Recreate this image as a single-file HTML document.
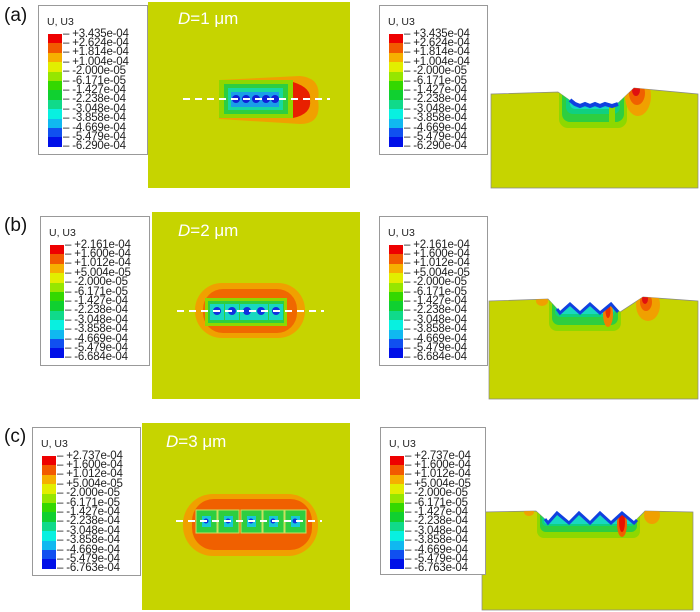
<!DOCTYPE html>
<html><head><meta charset="utf-8">
<style>
body{margin:0;background:#fff;width:700px;height:612px;overflow:hidden;font-family:"Liberation Sans",sans-serif;position:relative}
.lab{position:absolute;font-size:19px;color:#111}
.leg{position:absolute;border:1px solid #999;background:#fff;box-sizing:border-box}
.leg .t{position:absolute;left:8px;top:10px;font-size:10.5px;color:#222}
.d{position:absolute;color:#fff;font-size:17px}
svg{position:absolute;left:0;top:0}
</style></head><body>
<svg id="art" width="700" height="612">
<defs>
<clipPath id="ca"><path d="M491,94 L558,92 L575,104 L615,106 L634,88 L698,94 L698,188 L491,188 Z"/></clipPath>
<clipPath id="cb"><path d="M489,301 L548,299 L560,312 L570,303 L580,312 L590,303 L600,312 L611,303 L620,312 L643,297 L698,301 L698,399 L489,399 Z"/></clipPath>
<clipPath id="cc"><path d="M482,512 L536,511 L548,522 L557,512 L569,522 L579,512 L590,522 L600,512 L611,522 L622,512 L634,522 L645,511 L693,512 L693,610 L482,610 Z"/></clipPath>
</defs>
<!-- row a top view -->
<g>
<rect x="148" y="2" width="202" height="186" fill="#c6d400"/>
<path d="M219,80 L300,76 Q322,78 318,100 Q322,124 300,124 L219,119 Z" fill="#f0a000"/>
<path d="M293,82 Q312,88 310,100 Q312,114 293,118 Z" fill="#e82000"/>
<rect x="219" y="80" width="74" height="38" fill="#8ed800"/>
<rect x="224" y="84" width="64" height="30" fill="#2ece40"/>
<rect x="228" y="88" width="55" height="22" fill="#18d8a0"/>
<rect x="231" y="92" width="48" height="15" fill="#1a9ee8"/>
<g fill="#1020d8"><circle cx="236" cy="99" r="4"/><circle cx="246" cy="99" r="4"/><circle cx="256" cy="99" r="4"/><circle cx="266" cy="99" r="4"/><circle cx="275" cy="99" r="4"/></g>
<line x1="183" y1="99" x2="330" y2="99" stroke="#fff" stroke-width="2" stroke-dasharray="7,5"/>
</g>
<!-- row b top view -->
<g>
<rect x="152" y="212" width="208" height="187" fill="#c6d400"/>
<rect x="195" y="283" width="110" height="55" rx="27" fill="#f0a000"/>
<rect x="203" y="289" width="94" height="44" rx="20" fill="#f06800"/>
<rect x="205" y="298" width="82" height="28" fill="#8ed800"/>
<rect x="208" y="301" width="76" height="22" fill="#2ece40"/>
<g fill="#18d8c0"><rect x="210" y="304" width="14" height="16"/><rect x="225" y="304" width="14" height="16"/><rect x="240" y="304" width="14" height="16"/><rect x="254" y="304" width="14" height="16"/><rect x="269" y="304" width="14" height="16"/></g>
<g fill="#1030e0"><circle cx="217" cy="311" r="4"/><circle cx="232" cy="311" r="4"/><circle cx="247" cy="311" r="4"/><circle cx="261" cy="311" r="4"/><circle cx="276" cy="311" r="4"/></g>
<line x1="177" y1="311" x2="324" y2="311" stroke="#fff" stroke-width="2" stroke-dasharray="7,5"/>
</g>
<!-- row c top view -->
<g>
<rect x="142" y="423" width="208" height="187" fill="#c6d400"/>
<rect x="183" y="494" width="135" height="62" rx="30" fill="#f0a000"/>
<rect x="192" y="499" width="120" height="51" rx="22" fill="#f06000"/>
<g fill="#2ece40" stroke="#c8e060" stroke-width="1"><rect x="196" y="510" width="21" height="23"/><rect x="218" y="510" width="21" height="23"/><rect x="241" y="510" width="21" height="23"/><rect x="263" y="510" width="21" height="23"/><rect x="285" y="510" width="21" height="23"/></g>
<g fill="#18c8d8"><rect x="202" y="516" width="9" height="11"/><rect x="224" y="516" width="9" height="11"/><rect x="247" y="516" width="9" height="11"/><rect x="269" y="516" width="9" height="11"/><rect x="291" y="516" width="9" height="11"/></g>
<g fill="#1030e0"><circle cx="206" cy="521" r="2.5"/><circle cx="228" cy="521" r="2.5"/><circle cx="251" cy="521" r="2.5"/><circle cx="273" cy="521" r="2.5"/><circle cx="295" cy="521" r="2.5"/></g>
<line x1="176" y1="521" x2="322" y2="521" stroke="#fff" stroke-width="2" stroke-dasharray="7,5"/>
</g>
<!-- row a section -->
<g>
<path d="M491,94 L558,92 L575,104 L615,106 L634,88 L698,94 L698,188 L491,188 Z" fill="#c6d400" stroke="#888" stroke-width="0.7"/>
<g clip-path="url(#ca)">
<rect x="559" y="80" width="68" height="48" rx="9" fill="#8ed800"/>
<rect x="562" y="80" width="62" height="42" rx="8" fill="#2ece40"/>
<rect x="566" y="80" width="54" height="34" rx="7" fill="#10d080"/>
<rect x="570" y="80" width="46" height="29" rx="5" fill="#18d8c0"/>
<rect x="609" y="98" width="6" height="28" rx="3" fill="#8ed800"/>
<ellipse cx="638" cy="96" rx="13" ry="20" fill="#f0a000"/>
<ellipse cx="637" cy="93" rx="8" ry="12" fill="#f06000"/>
<ellipse cx="636" cy="90" rx="4" ry="6" fill="#e01010"/>
</g>
<path d="M570,100 L575,104 L580,106 L585,104 L590,106 L595,104 L600,106 L605,104 L612,106 L618,104" fill="none" stroke="#1040e0" stroke-width="4"/>
</g>
<!-- row b section -->
<g>
<path d="M489,301 L548,299 L560,312 L570,303 L580,312 L590,303 L600,312 L611,303 L620,312 L643,297 L698,301 L698,399 L489,399 Z" fill="#c6d400" stroke="#888" stroke-width="0.7"/>
<g clip-path="url(#cb)">
<rect x="549" y="290" width="72" height="41" rx="8" fill="#8ed800"/>
<rect x="552" y="290" width="66" height="35" rx="7" fill="#2ece40"/>
<rect x="555" y="290" width="60" height="27" rx="5" fill="#10d080"/>
<rect x="557" y="290" width="57" height="24" rx="4" fill="#18d8c0"/>
<ellipse cx="608" cy="314" rx="5" ry="13" fill="#f08000"/>
<ellipse cx="608" cy="311" rx="2.5" ry="7" fill="#e83000"/>
<ellipse cx="648" cy="305" rx="12" ry="16" fill="#f0a000"/>
<ellipse cx="646" cy="302" rx="6" ry="9" fill="#f06000"/>
<ellipse cx="645" cy="299" rx="3" ry="5" fill="#e01010"/>
<ellipse cx="542" cy="301" rx="6" ry="5" fill="#f0a000"/>
</g>
<path d="M557,309 L560,313 L570,304 L580,313 L590,304 L600,313 L611,304 L618,312" fill="none" stroke="#1040e0" stroke-width="3"/>
</g>
<!-- row c section -->
<g>
<path d="M482,512 L536,511 L548,522 L557,512 L569,522 L579,512 L590,522 L600,512 L611,522 L622,512 L634,522 L645,511 L693,512 L693,610 L482,610 Z" fill="#c6d400" stroke="#888" stroke-width="0.7"/>
<g clip-path="url(#cc)">
<rect x="537" y="500" width="103" height="38" rx="7" fill="#8ed800"/>
<rect x="540" y="500" width="97" height="32" rx="6" fill="#2ece40"/>
<rect x="542" y="500" width="93" height="26" rx="4" fill="#10d080"/>
<rect x="544" y="500" width="89" height="24" rx="3" fill="#18d8c0"/>
<ellipse cx="622" cy="524" rx="5" ry="13" fill="#f06000"/>
<ellipse cx="622" cy="522" rx="3" ry="10" fill="#e81000"/>
<ellipse cx="652" cy="515" rx="8" ry="9" fill="#f0a000"/>
<ellipse cx="529" cy="512" rx="5" ry="4" fill="#f0a000"/>
</g>
<path d="M545,519 L548,523 L557,513 L569,523 L579,513 L590,523 L600,513 L611,523 L622,513 L634,523 L637,520" fill="none" stroke="#1040e0" stroke-width="3"/>
</g>
</svg>

<div class="lab" style="left:4px;top:5px">(a)</div>
<div class="lab" style="left:4px;top:215px">(b)</div>
<div class="lab" style="left:4px;top:426px">(c)</div>
<div class="d" style="left:178px;top:9px"><i>D</i>=1 μm</div>
<div class="d" style="left:178px;top:221px"><i>D</i>=2 μm</div>
<div class="d" style="left:166px;top:432px"><i>D</i>=3 μm</div>

<script>
const bandColors = ["#ee0000","#f25a00","#f6b000","#e2ee00","#96e600","#34d800","#10d030","#10da8a","#08f0e0","#10b8f0","#1050f0","#0010e8"];
const labelsA = ["+3.435e-04","+2.624e-04","+1.814e-04","+1.004e-04","-2.000e-05","-6.171e-05","-1.427e-04","-2.238e-04","-3.048e-04","-3.858e-04","-4.669e-04","-5.479e-04","-6.290e-04"];
const labelsB = ["+2.161e-04","+1.600e-04","+1.012e-04","+5.004e-05","-2.000e-05","-6.171e-05","-1.427e-04","-2.238e-04","-3.048e-04","-3.858e-04","-4.669e-04","-5.479e-04","-6.684e-04"];
const labelsC = ["+2.737e-04","+1.600e-04","+1.012e-04","+5.004e-05","-2.000e-05","-6.171e-05","-1.427e-04","-2.238e-04","-3.048e-04","-3.858e-04","-4.669e-04","-5.479e-04","-6.763e-04"];
const legendBoxes = [
 {n:"legend-a-left",x:38,y:5,w:110,h:150,L:labelsA},
 {n:"legend-a-right",x:379,y:5,w:109,h:150,L:labelsA},
 {n:"legend-b-left",x:40,y:216,w:110,h:150,L:labelsB},
 {n:"legend-b-right",x:379,y:216,w:109,h:150,L:labelsB},
 {n:"legend-c-left",x:32,y:427,w:109,h:149,L:labelsC},
 {n:"legend-c-right",x:380,y:427,w:106,h:148,L:labelsC}
];
const bandH = 9.4;
legendBoxes.forEach(b=>{
  const box=document.createElement('div');
  box.className='leg';
  
  
  box.style.cssText=`left:${b.x}px;top:${b.y}px;width:${b.w}px;height:${b.h}px`;
  const t=document.createElement('div');
  t.className='t';t.textContent='U, U3';
  
  
  box.appendChild(t);
  bandColors.forEach((c,i)=>{
    const s=document.createElement('div');
    
    
    s.style.cssText=`position:absolute;left:9px;top:${28+i*bandH}px;width:14px;height:${bandH+0.5}px;background:${c}`;
    box.appendChild(s);
  });
  b.L.forEach((l,i)=>{
    const e=document.createElement('div');
    
    
    e.style.cssText=`position:absolute;left:24px;top:${21.5+i*bandH}px;font-size:11.5px;line-height:12px;color:#222;white-space:nowrap;letter-spacing:-0.2px`;
    e.textContent='– '+l;
    box.appendChild(e);
  });
  document.body.appendChild(box);
});
</script>
</body></html>
